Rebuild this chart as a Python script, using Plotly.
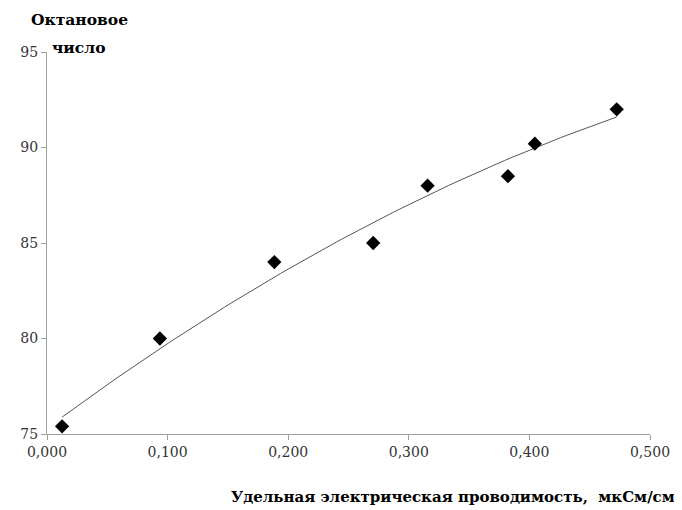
import numpy as np
import plotly.graph_objects as go

# Data
conductivity = [0.0125, 0.0936, 0.1885, 0.2705, 0.3156, 0.3822, 0.4045, 0.4724]
octane = [75.4, 80.0, 84.0, 85.0, 88.0, 88.5, 90.2, 92.0]
x_ticks = [0.0, 0.1, 0.2, 0.3, 0.4, 0.5]
x_tick_labels = ["0,000", "0,100", "0,200", "0,300", "0,400", "0,500"]
y_ticks = [75, 80, 85, 90, 95]

# Polynomial (2nd order) trendline fitted to the data, as in the original
coef = np.polyfit(conductivity, octane, 2)
xt = np.linspace(min(conductivity), max(conductivity), 100)
yt = np.polyval(coef, xt)

fig = go.Figure()
fig.add_trace(go.Scatter(x=xt, y=yt, mode="lines",
                         line=dict(color="#555555", width=1), hoverinfo="skip",
                         showlegend=False))
fig.add_trace(go.Scatter(x=conductivity, y=octane, mode="markers",
                         marker=dict(symbol="diamond", size=11, color="black"),
                         showlegend=False))

FONT = "DejaVu Serif"
axis_font = dict(family=FONT, size=14, color="#333333")
fig.update_xaxes(range=[0, 0.5], tickvals=x_ticks, ticktext=x_tick_labels,
                 showgrid=False, zeroline=False, showline=True, linecolor="#a0a0a0",
                 linewidth=1, ticks="outside", ticklen=5, tickcolor="#a0a0a0",
                 tickfont=axis_font, mirror=False)
fig.update_yaxes(range=[75, 95], tickvals=y_ticks,
                 showgrid=False, zeroline=False, showline=True, linecolor="#a0a0a0",
                 linewidth=1, ticks="outside", ticklen=5, tickcolor="#a0a0a0",
                 tickfont=axis_font)

# page offset (body margin) of 8 px compensated in margins
OFF = 8
L, T = 45.5 - OFF, 52 - OFF
PW, PH = 651 - 45.5, 434 - 52


def px(xp):
    return (xp - 45.5) / PW


def py(yp):
    return (434 - yp) / PH


title_font = dict(family=FONT, size=15.5, color="black")
fig.add_annotation(text="<b>Октановое</b>", xref="paper", yref="paper",
                   x=px(78), y=py(20), xanchor="center", yanchor="middle",
                   showarrow=False, font=title_font)
fig.add_annotation(text="<b>число</b>", xref="paper", yref="paper",
                   x=px(78), y=py(47), xanchor="center", yanchor="middle",
                   showarrow=False, font=title_font)
fig.add_annotation(text="<b>Удельная электрическая проводимость,  мкСм/см</b>",
                   xref="paper", yref="paper",
                   x=px(678), y=py(497), xanchor="right", yanchor="middle",
                   showarrow=False, font=dict(family=FONT, size=15, color="black"))

fig.update_layout(width=682 - OFF, height=510 - OFF, plot_bgcolor="white",
                  paper_bgcolor="white",
                  margin=dict(l=L, r=31, t=T, b=76))
fig.write_html("out.html")
